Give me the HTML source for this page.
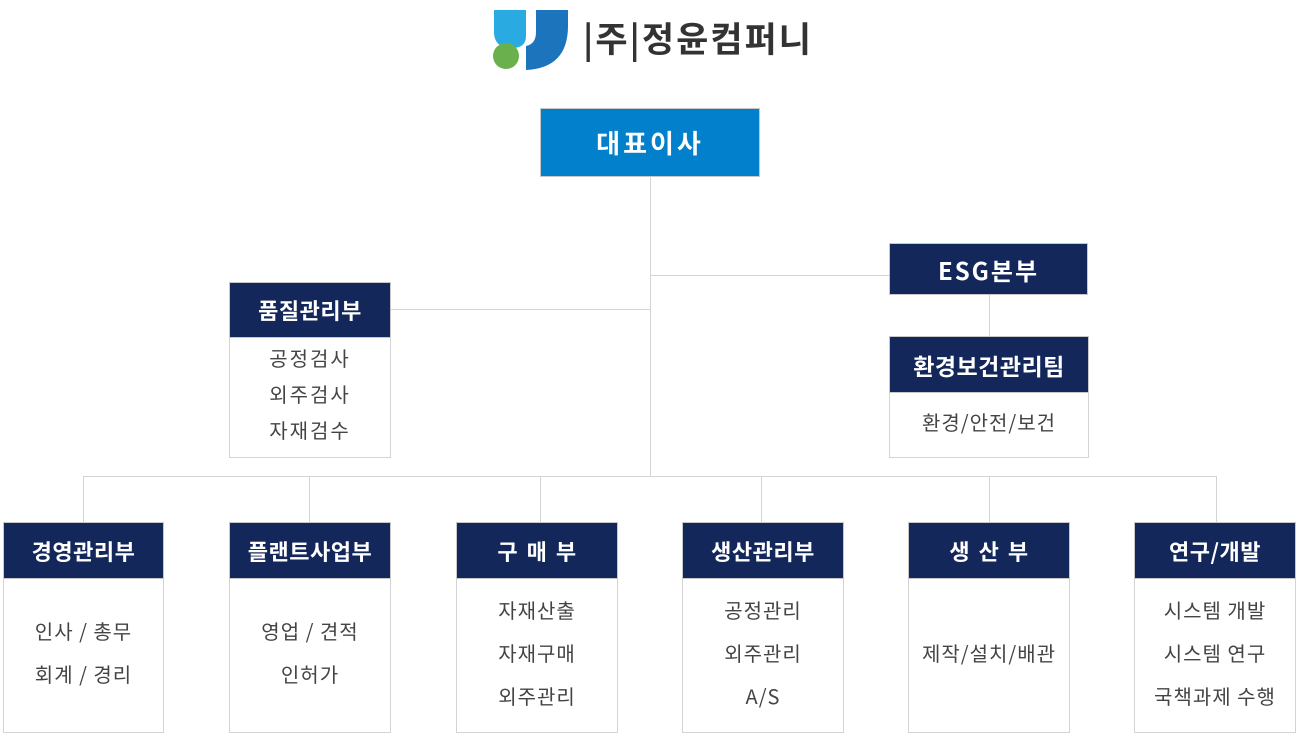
<!DOCTYPE html>
<html><head><meta charset="utf-8"><style>
body{margin:0;width:1300px;height:748px;background:#fff;position:relative;overflow:hidden;font-family:"Noto Sans CJK KR","Liberation Sans",sans-serif}
.a{position:absolute;box-sizing:border-box}
.l{position:absolute;background:#d4d4d4}
.h{position:absolute;box-sizing:border-box;background:#13275a;color:#fff;font-weight:bold;font-size:22px;display:flex;align-items:center;justify-content:center;border:1px solid #c8c8c8;letter-spacing:0.5px}
.b{position:absolute;box-sizing:border-box;border:1px solid #d4d4d4;border-top:none;color:#444;font-size:20px;text-align:center;display:flex;flex-direction:column;justify-content:center;line-height:43px;letter-spacing:1px;padding-bottom:7px}
</style></head><body>
<svg class="a" style="left:490px;top:6px" width="80" height="66" viewBox="0 0 80 66">
<path d="M4 4 H36 V30 Q36 42 22 42 Q4 42 4 26 Z" fill="#29abe2"/>
<path d="M46 4 H78 V20 Q78 62 36 64 V40 Q46 38 46 26 Z" fill="#1c75bc"/>
<circle cx="16" cy="50" r="13" fill="#6ab04c"/>
</svg>
<div class="a" style="left:583px;top:12px;font-size:35px;font-weight:bold;color:#333;letter-spacing:2px">|주|정윤컴퍼니</div>
<div class="l" style="left:650px;top:176px;width:1px;height:300px"></div>
<div class="l" style="left:651px;top:275px;width:239px;height:1px"></div>
<div class="l" style="left:390px;top:309px;width:261px;height:1px"></div>
<div class="l" style="left:989px;top:294px;width:1px;height:43px"></div>
<div class="l" style="left:83px;top:476px;width:1134px;height:1px"></div>
<div class="l" style="left:83px;top:476px;width:1px;height:47px"></div>
<div class="l" style="left:309px;top:476px;width:1px;height:47px"></div>
<div class="l" style="left:540px;top:476px;width:1px;height:47px"></div>
<div class="l" style="left:761px;top:476px;width:1px;height:47px"></div>
<div class="l" style="left:989px;top:476px;width:1px;height:47px"></div>
<div class="l" style="left:1216px;top:476px;width:1px;height:47px"></div>
<div class="h" style="left:540px;top:108px;width:220px;height:69px;background:#0280cc;font-size:26px;letter-spacing:3px">대표이사</div>
<div class="h" style="left:889px;top:243px;width:199px;height:52px;font-size:24px;letter-spacing:2px">ESG본부</div>
<div class="h" style="left:889px;top:336px;width:200px;height:57px;font-size:23px">환경보건관리팀</div>
<div class="b" style="left:889px;top:393px;width:200px;height:65px">환경/안전/보건</div>
<div class="h" style="left:229px;top:282px;width:162px;height:56px">품질관리부</div>
<div class="b" style="left:229px;top:338px;width:162px;height:120px;line-height:36px;letter-spacing:2px">공정검사<br>외주검사<br>자재검수</div>
<div class="h" style="left:3px;top:522px;width:161px;height:57px">경영관리부</div>
<div class="b" style="left:3px;top:579px;width:161px;height:154px">인사 / 총무<br>회계 / 경리</div>
<div class="h" style="left:229px;top:522px;width:162px;height:57px">플랜트사업부</div>
<div class="b" style="left:229px;top:579px;width:162px;height:154px">영업 / 견적<br>인허가</div>
<div class="h" style="left:456px;top:522px;width:162px;height:57px;word-spacing:3px">구 매 부</div>
<div class="b" style="left:456px;top:579px;width:162px;height:154px">자재산출<br>자재구매<br>외주관리</div>
<div class="h" style="left:682px;top:522px;width:162px;height:57px">생산관리부</div>
<div class="b" style="left:682px;top:579px;width:162px;height:154px">공정관리<br>외주관리<br>A/S</div>
<div class="h" style="left:908px;top:522px;width:162px;height:57px;word-spacing:3px">생 산 부</div>
<div class="b" style="left:908px;top:579px;width:162px;height:154px">제작/설치/배관</div>
<div class="h" style="left:1134px;top:522px;width:162px;height:57px">연구/개발</div>
<div class="b" style="left:1134px;top:579px;width:162px;height:154px">시스템 개발<br>시스템 연구<br>국책과제 수행</div>
</body></html>
